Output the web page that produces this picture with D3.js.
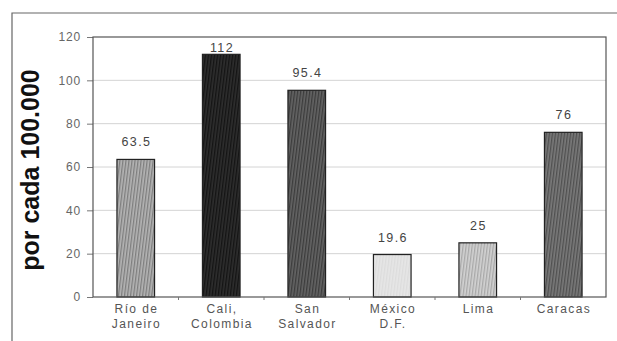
<!DOCTYPE html>
<html>
<head>
<meta charset="utf-8">
<script src="https://cdn.jsdelivr.net/npm/d3@7/dist/d3.min.js"></script>
<style>
  html, body { margin: 0; padding: 0; background: #fff; }
  svg { display: block; font-family: "Liberation Sans", Arial, sans-serif; }
</style>
</head>
<body>
<svg id="chart" width="617" height="341"></svg>
<script>
// Tasa de homicidios por cada 100.000 habitantes
const cities = [["Río de", "Janeiro"], ["Cali,", "Colombia"], ["San", "Salvador"], ["México", "D.F."], ["Lima"], ["Caracas"]];
const rates = [63.5, 112, 95.4, 19.6, 25, 76];
const rateLabels = ["63.5", "112", "95.4", "19.6", "25", "76"];
const yTicks = [0, 20, 40, 60, 80, 100, 120];
const yTitle = "por cada 100.000";

// bar fill: base tone + stripe tone
const fills = [
  ["#b4b4b4", "#7e7e7e"],
  ["#2e2e2e", "#141414"],
  ["#646464", "#3c3c3c"],
  ["#e6e6e6", "#dcdcdc"],
  ["#d2d2d2", "#a8a8a8"],
  ["#7a7a7a", "#505050"]
];

const svg = d3.select("#chart");
const m = { left: 93, right: 606, top: 37, bottom: 297 };

const x = d3.scaleBand().domain(d3.range(cities.length)).range([m.left, m.right]).paddingInner(0.56).paddingOuter(0.28);
const y = d3.scaleLinear().domain([0, 120]).range([m.bottom, m.top]);

// stripe patterns
const defs = svg.append("defs");
fills.forEach((f, i) => {
  const p = defs.append("pattern")
    .attr("id", "hatch" + i)
    .attr("patternUnits", "userSpaceOnUse")
    .attr("width", 3).attr("height", 3)
    .attr("patternTransform", "rotate(7)");
  p.append("rect").attr("width", 3).attr("height", 3).attr("fill", f[0]);
  p.append("rect").attr("width", 1.3).attr("height", 3).attr("fill", f[1]);
});

// outer frame
svg.append("path")
  .attr("d", "M12,341 L12,13 L617,13")
  .attr("fill", "none").attr("stroke", "#666").attr("stroke-width", 1.2);

// gridlines
svg.append("g")
  .selectAll("line")
  .data(yTicks.filter(t => t > 0 && t < 120))
  .join("line")
  .attr("x1", m.left).attr("x2", m.right)
  .attr("y1", d => y(d)).attr("y2", d => y(d))
  .attr("stroke", "#d4d4d4").attr("stroke-width", 1);

// y axis
const yAxis = svg.append("g")
  .attr("transform", `translate(${m.left},0)`)
  .call(d3.axisLeft(y).tickValues(yTicks).tickSize(6).tickPadding(6));
yAxis.select(".domain").remove();
yAxis.selectAll(".tick line").attr("stroke", "#777");
yAxis.selectAll(".tick text").attr("fill", "#666")
  .style("font-size", "12px").style("letter-spacing", "0.8px");

// bars
svg.append("g")
  .selectAll("rect")
  .data(rates)
  .join("rect")
  .attr("x", (d, i) => x(i))
  .attr("y", d => y(d))
  .attr("width", x.bandwidth())
  .attr("height", d => y(0) - y(d))
  .attr("fill", (d, i) => `url(#hatch${i})`)
  .attr("stroke", "#222").attr("stroke-width", 1.2);

// plot frame
svg.append("rect")
  .attr("x", m.left).attr("y", m.top)
  .attr("width", m.right - m.left).attr("height", m.bottom - m.top)
  .attr("fill", "none").attr("stroke", "#555").attr("stroke-width", 1.2);

// x axis boundary ticks
const step = x.step();
svg.append("g")
  .selectAll("line")
  .data(d3.range(1, cities.length))
  .join("line")
  .attr("x1", i => m.left + i * step).attr("x2", i => m.left + i * step)
  .attr("y1", m.bottom).attr("y2", m.bottom + 3)
  .attr("stroke", "#777");

// value labels
svg.append("g")
  .selectAll("text")
  .data(rates)
  .join("text")
  .attr("x", (d, i) => x(i) + x.bandwidth() / 2 + 0.7)
  .attr("y", d => Math.max(y(d) - 13, y(120) + 15))
  .attr("text-anchor", "middle")
  .attr("fill", "#444")
  .style("font-size", "12.5px")
  .style("letter-spacing", "1.4px")
  .text((d, i) => rateLabels[i]);

// category labels
const cat = svg.append("g")
  .selectAll("text")
  .data(cities)
  .join("text")
  .attr("x", (d, i) => x(i) + x.bandwidth() / 2 + 0.7)
  .attr("y", 313)
  .attr("text-anchor", "middle")
  .attr("fill", "#555")
  .style("font-size", "12px")
  .style("letter-spacing", "1.4px");
cat.selectAll("tspan")
  .data(d => d)
  .join("tspan")
  .attr("x", function () { return d3.select(this.parentNode).attr("x"); })
  .attr("dy", (d, i) => i === 0 ? 0 : 15)
  .text(d => d);

// y title
svg.append("text")
  .attr("transform", "translate(39,170) rotate(-90)")
  .attr("text-anchor", "middle")
  .attr("fill", "#111")
  .style("font-size", "25px")
  .style("font-weight", "bold")
  .text(yTitle);
</script>
</body>
</html>
